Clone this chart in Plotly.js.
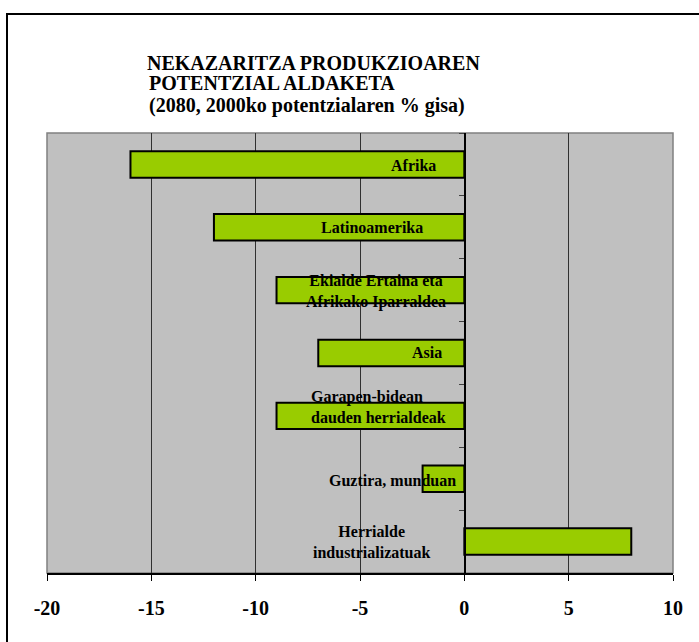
<!DOCTYPE html>
<html>
<head>
<meta charset="utf-8">
<script src="https://cdn.plot.ly/plotly-3.0.1.min.js"></script>
<style>
html,body{margin:0;padding:0;background:#fff;overflow:hidden;}
#wrap{position:relative;width:699px;height:642px;overflow:hidden;}
#chart{position:absolute;left:0;top:0;width:699px;height:642px;overflow:hidden;}
#cover{position:absolute;left:688px;top:16px;width:11px;height:626px;background:#fff;z-index:5;}
#frame{position:absolute;left:6px;top:13px;width:1000px;height:1000px;border-left:2px solid #000;border-top:2px solid #000;pointer-events:none;z-index:6;}
</style>
</head>
<body>
<div id="wrap"><div id="chart"></div><div id="cover"></div><div id="frame"></div></div>
<script>
// ---- data ----
var categories = [
  "Afrika",
  "Latinoamerika",
  "Ekialde Ertaina eta<br>Afrikako Iparraldea",
  "Asia",
  "Garapen-bidean<br>dauden herrialdeak",
  "Guztira, munduan",
  "Herrialde<br>industrializatuak"
];
var values = [-16, -12, -9, -7, -9, -2, 8];
var tickVals = [-20, -15, -10, -5, 0, 5, 10];
var tickLabels = ["-20", "-15", "-10", "-5", "0", "5", "10"];
var titleLines = [
  "NEKAZARITZA PRODUKZIOAREN",
  "POTENTZIAL ALDAKETA",
  "(2080, 2000ko potentzialaren % gisa)"
];

// ---- label placement (layout only) ----
var labelX = [-2.42, -4.43, -4.24, -1.80, -7.44, -3.42, -4.43];
var labelAnchor = ["center", "center", "center", "center", "left", "center", "center"];
var labelYShift = [-1, 0, -1, 1, 9, -2, 0];

var serif = "Liberation Serif";

var trace = {
  type: "bar",
  orientation: "h",
  y: categories,
  x: values,
  width: 0.42,
  marker: { color: "#99CC00", line: { color: "#000000", width: 2 } },
  hoverinfo: "x+y"
};

var annotations = categories.map(function (c, i) {
  return {
    xref: "x", yref: "y", x: labelX[i], y: c,
    text: c,
    showarrow: false,
    xanchor: labelAnchor[i], yanchor: "middle",
    align: labelAnchor[i] === "left" ? "left" : "center",
    yshift: labelYShift[i],
    font: { family: serif, size: 16, color: "#000", weight: "bold" }
  };
});
annotations.push({
  xref: "paper", yref: "paper", x: 0.1597, y: 1.113,
  text: titleLines[1], showarrow: false,
  xanchor: "left", yanchor: "middle",
  font: { family: serif, size: 20, color: "#000", weight: "bold" }
});
annotations.push({
  xref: "paper", yref: "paper", x: 0.1597, y: 1.0636,
  text: titleLines[2], showarrow: false,
  xanchor: "left", yanchor: "middle",
  font: { family: serif, size: 20, color: "#000", weight: "bold" }
});

var layout = {
  width: 699, height: 642,
  margin: { l: 47, r: 26, t: 133, b: 69, pad: 0 },
  paper_bgcolor: "rgba(0,0,0,0)",
  plot_bgcolor: "#C0C0C0",
  showlegend: false,
  font: { family: serif },
  title: {
    text: titleLines[0],
    xref: "container", yref: "container",
    x: 147 / 699, xanchor: "left",
    y: 1 - 62.5 / 642, yanchor: "middle",
    font: { family: serif, size: 20, color: "#000", weight: "bold" }
  },
  xaxis: {
    range: [-20, 10],
    tickvals: tickVals, ticktext: tickLabels,
    ticks: "outside", ticklen: 6, tickwidth: 1, tickcolor: "#000",
    showline: true, linecolor: "#000", linewidth: 1.5,
    showgrid: true, gridcolor: "#303030", gridwidth: 1,
    zeroline: false,
    ticklabelstandoff: 10,
    tickfont: { family: serif, size: 20, color: "#000", weight: "bold" },
    fixedrange: true
  },
  yaxis: {
    type: "category",
    autorange: "reversed",
    anchor: "free", position: 20 / 30, side: "left",
    showline: true, linecolor: "#000", linewidth: 1.5,
    ticks: "outside", ticklen: 5, tickwidth: 1, tickcolor: "#404040",
    tickson: "boundaries",
    showticklabels: false,
    showgrid: false, zeroline: false,
    fixedrange: true
  },
  shapes: [
    { type: "rect", xref: "paper", yref: "paper", x0: 0, x1: 1, y0: 0, y1: 1,
      line: { color: "#808080", width: 1.5 }, fillcolor: "rgba(0,0,0,0)", layer: "below" }
  ],
  annotations: annotations
};

Plotly.newPlot("chart", [trace], layout, { displayModeBar: false, staticPlot: true });
</script>
</body>
</html>
